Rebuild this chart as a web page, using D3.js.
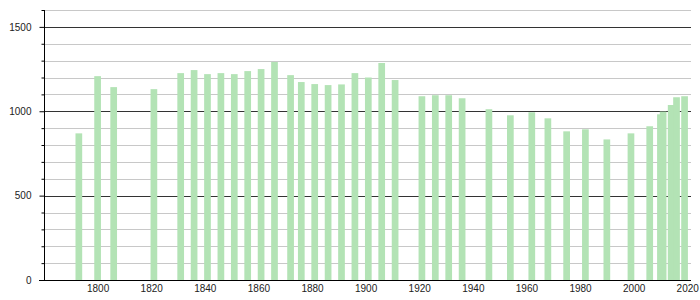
<!DOCTYPE html>
<html>
<head>
<meta charset="utf-8">
<script src="https://cdn.jsdelivr.net/npm/d3@7"></script>
<style>
  body { margin: 0; background: #fff; }
  svg { display: block; font-family: "Liberation Sans", Arial, sans-serif; }
</style>
</head>
<body>
<div id="chart"></div>
<script>
const years = [1793, 1800, 1806, 1821, 1831, 1836, 1841, 1846, 1851, 1856, 1861, 1866,
  1872, 1876, 1881, 1886, 1891, 1896, 1901, 1906, 1911, 1921, 1926, 1931, 1936,
  1946, 1954, 1962, 1968, 1975, 1982, 1990, 1999, 2006, 2010, 2011, 2014, 2016, 2019];
const population = [869, 1208, 1143, 1131, 1226, 1244, 1220, 1226, 1220, 1238, 1250, 1292,
  1214, 1173, 1161, 1155, 1159, 1226, 1200, 1286, 1185, 1089, 1095, 1095, 1077,
  1012, 976, 994, 958, 881, 893, 833, 869, 911, 982, 998, 1037, 1083, 1089];
const xTicks = [1800, 1820, 1840, 1860, 1880, 1900, 1920, 1940, 1960, 1980, 2000, 2020];
const yTicks = [0, 500, 1000, 1500];

const data = years.map((y, i) => ({ year: y, value: population[i] }));

const width = 700;
const height = 300;
const usable = { left: 44, right: 691, top: 10, bottom: 280 };

const svg = d3.select('#chart')
  .append('svg')
  .attr('width', width)
  .attr('height', height);

const xScale = d3.scaleLinear().domain([1780, 2021.4]).range([usable.left, usable.right]);
const yScale = d3.scaleLinear().domain([0, 1600]).range([usable.bottom, usable.top]);

const minorTicks = d3.range(100, 1601, 100).filter((d) => !yTicks.includes(d));

// gridlines every 100, darker every 500
const grid = svg.append('g').attr('class', 'gridlines');
grid.selectAll('line')
  .data(d3.range(100, 1601, 100))
  .join('line')
  .attr('x1', usable.left)
  .attr('x2', usable.right)
  .attr('y1', (d) => Math.round(yScale(d)) + 0.5)
  .attr('y2', (d) => Math.round(yScale(d)) + 0.5)
  .attr('stroke', (d) => (yTicks.includes(d) ? '#333' : '#c8c8c8'))
  .attr('stroke-width', 1);

// bars
const barW = xScale(1782.5) - xScale(1780);
svg.append('g')
  .attr('class', 'bars')
  .selectAll('rect')
  .data(data)
  .join('rect')
  .attr('x', (d) => xScale(d.year) - barW / 2)
  .attr('y', (d) => yScale(d.value))
  .attr('width', barW)
  .attr('height', (d) => yScale(0) - yScale(d.value))
  .attr('fill', '#b3e3b5');

// y axis: minor ticks, then major ticks with labels
const yMinor = svg.append('g')
  .attr('transform', `translate(${usable.left + 0.5}, 0)`)
  .call(d3.axisLeft(yScale).tickValues(minorTicks).tickSize(3).tickFormat(''));
yMinor.select('.domain').remove();
yMinor.selectAll('.tick line').attr('stroke', '#000');

const yAxis = svg.append('g')
  .attr('transform', `translate(${usable.left + 0.5}, 0)`)
  .call(d3.axisLeft(yScale).tickValues(yTicks).tickSize(5).tickFormat(d3.format('d')));
yAxis.select('.domain').attr('d', `M0,${usable.top}V${usable.bottom}`).attr('stroke', '#000');
yAxis.selectAll('.tick line').attr('stroke', '#000');
yAxis.selectAll('.tick text')
  .attr('x', -13)
  .attr('font-size', 10)
  .attr('font-family', '"Liberation Sans", Arial, sans-serif')
  .attr('fill', '#222');

// x axis
const xAxis = svg.append('g')
  .attr('transform', `translate(0, ${usable.bottom + 0.5})`)
  .call(d3.axisBottom(xScale).tickValues(xTicks).tickSize(0).tickFormat(d3.format('d')));
xAxis.select('.domain').attr('d', `M${usable.left - 5},0H${usable.right}`).attr('stroke', '#000');
xAxis.selectAll('.tick text')
  .attr('y', 4)
  .attr('font-size', 10)
  .attr('font-family', '"Liberation Sans", Arial, sans-serif')
  .attr('fill', '#222');
</script>
</body>
</html>
